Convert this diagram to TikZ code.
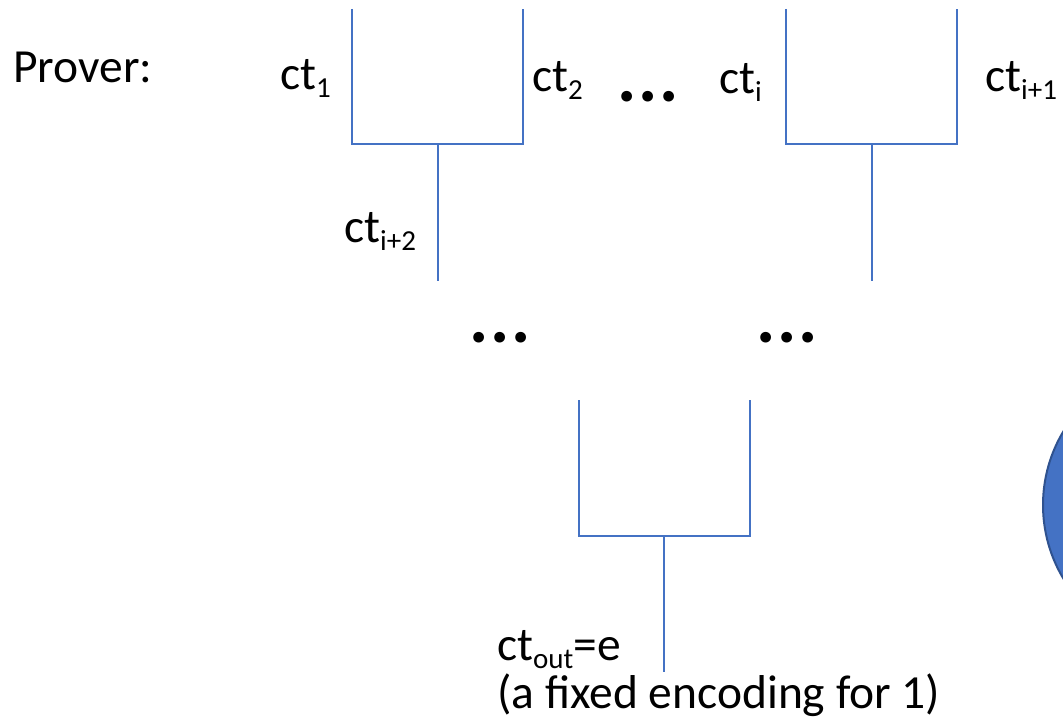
\documentclass[tikz,border=0pt]{standalone}
\usepackage{fontspec}
\setmainfont{Carlito}
\definecolor{wire}{HTML}{4472C4}
\definecolor{rim}{HTML}{2F528F}
% ciphertext label with a lowered, smaller index
\newcommand{\ctlab}[1]{ct\raisebox{-8pt}{\fontsize{29}{29}\selectfont #1}}
\begin{document}
\begin{tikzpicture}[x=1pt,y=-1pt,
  wire/.style={draw=wire,line width=1.2pt},
  lbl/.style={anchor=base west,inner sep=0pt,font=\fontsize{47.5}{47.5}\selectfont},
  dotrow/.style={anchor=base,inner sep=0pt,font=\fontsize{72}{72}\selectfont\bfseries}]
\clip (0,0) rectangle (1063,725);
\useasboundingbox (0,0) rectangle (1063,725);

% top-left gate
\coordinate (a1) at (352,9);   \coordinate (a2) at (523,9);
\coordinate (a3) at (352,144); \coordinate (a4) at (523,144);
\coordinate (am) at (438,144); \coordinate (ao) at (438,281);
\draw[wire] (a1) -- (a3) -- (a4) -- (a2);
\draw[wire] (am) -- (ao);

% top-right gate
\coordinate (b1) at (786,9);   \coordinate (b2) at (957,9);
\coordinate (b3) at (786,144); \coordinate (b4) at (957,144);
\coordinate (bm) at (872,144); \coordinate (bo) at (872,281);
\draw[wire] (b1) -- (b3) -- (b4) -- (b2);
\draw[wire] (bm) -- (bo);

% output gate
\coordinate (c1) at (579,400); \coordinate (c2) at (750,400);
\coordinate (c3) at (579,536); \coordinate (c4) at (750,536);
\coordinate (cm) at (664,536); \coordinate (co) at (664,672);
\draw[wire] (c1) -- (c3) -- (c4) -- (c2);
\draw[wire] (cm) -- (co);

% labels
\node[lbl] (prover) at (13,82) {Prover:};
\node[lbl] (ct1) at (280,89) {\ctlab{1}};
\node[lbl] (ct2) at (532,92) {\ctlab{2}};
\node[lbl] (cti) at (719,93) {\ctlab{i}};
\node[lbl] (ctj) at (985,92) {\ctlab{i+1}};
\node[lbl] (ctk) at (344,242) {\ctlab{i+2}};
\node[lbl] (ctout) at (497,660) {\ctlab{out}=e};
\node[lbl] (note) at (497,708) {(a fixed encoding for 1)};

% ellipses
\node[dotrow] (d1) at (648,102) {.\hspace{2pt}.\hspace{2pt}.};
\node[dotrow] (d2) at (500,342) {.\hspace{2pt}.\hspace{2pt}.};
\node[dotrow] (d3) at (787,342) {.\hspace{2pt}.\hspace{2pt}.};

% verifier disc at the right edge
\node[circle,fill=wire,draw=rim,line width=2pt,minimum size=286pt,inner sep=0pt] (disc) at (1186,505) {};
\end{tikzpicture}
\end{document}
